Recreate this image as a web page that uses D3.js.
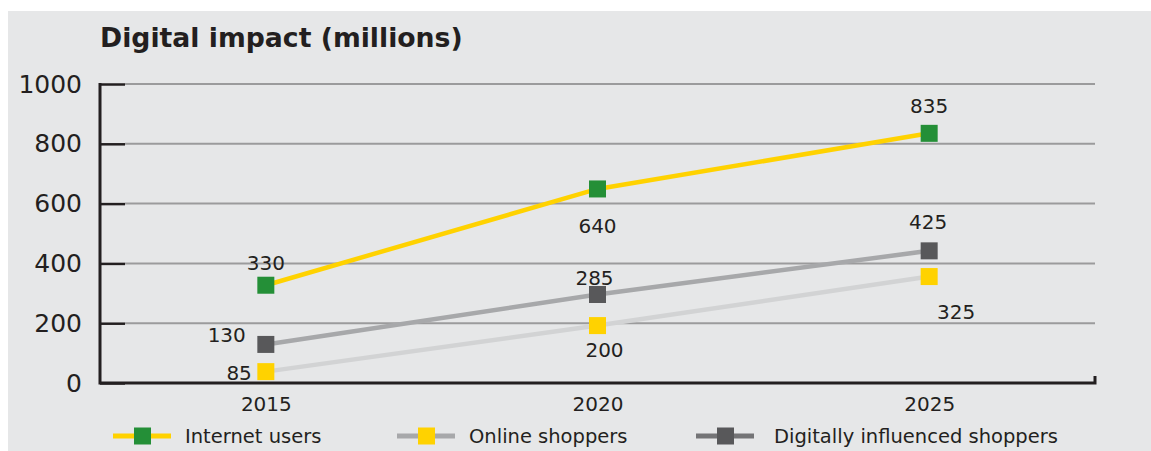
<!DOCTYPE html>
<html>
<head>
<meta charset="utf-8">
<script src="https://cdn.jsdelivr.net/npm/d3@7"></script>
<style>
  html, body { margin: 0; padding: 0; background: #fff; }
  svg { display: block; font-family: "DejaVu Sans", sans-serif; }
</style>
</head>
<body>
<div id="chart"></div>
<script>
// Digital impact (millions): three series over 2015 / 2020 / 2025

const years = ["2015", "2020", "2025"];
const yTicks = [0, 200, 400, 600, 800, 1000];

// where the markers sit in the picture
const internetUsers = [327, 649, 835];
const onlineShoppers = [38, 192, 356];
const digitallyInfluenced = [129, 296, 442];

// numbers printed next to the markers
const internetLabels = ["330", "640", "835"];
const onlineLabels = ["85", "200", "325"];
const digitalLabels = ["130", "285", "425"];

const seriesNames = ["Internet users", "Online shoppers", "Digitally influenced shoppers"];

function drawChart() {
  const width = 1151, height = 451;
  const axisLeft = 100, axisRight = 1095, axisTop = 84, axisBottom = 383;

  const svg = d3.select("#chart").append("svg")
    .attr("width", width)
    .attr("height", height);

  // grey panel
  svg.append("rect")
    .attr("x", 8).attr("y", 11)
    .attr("width", width - 8).attr("height", height - 11)
    .attr("fill", "#e6e7e8");

  const x = d3.scalePoint()
    .domain(years)
    .range([axisLeft, axisRight])
    .padding(0.5);

  const y = d3.scaleLinear()
    .domain([0, 1000])
    .range([axisBottom, axisTop]);

  // gridlines
  svg.append("g")
    .selectAll("line")
    .data(yTicks.filter(d => d > 0))
    .join("line")
    .attr("x1", axisLeft + 25).attr("x2", axisRight)
    .attr("y1", d => y(d)).attr("y2", d => y(d))
    .attr("stroke", "#9b9b9c")
    .attr("stroke-width", 2);

  // y axis: dark tick marks pointing inwards
  const yAxis = svg.append("g")
    .attr("transform", `translate(${axisLeft},0)`)
    .call(d3.axisLeft(y).tickValues(yTicks).tickFormat(d3.format("d")).tickSize(-25).tickPadding(18));
  yAxis.select(".domain").remove();
  yAxis.selectAll(".tick line").attr("stroke", "#231f20").attr("stroke-width", 2.5);
  yAxis.selectAll(".tick text")
    .attr("fill", "#231f20")
    .style("font-size", "25px")
    .style("font-family", "DejaVu Sans, sans-serif");

  // left and bottom axis lines with small end hook
  svg.append("path")
    .attr("d", `M${axisLeft},${axisTop - 1}V${axisBottom}H${axisRight}V${axisBottom - 7}`)
    .attr("fill", "none")
    .attr("stroke", "#231f20")
    .attr("stroke-width", 3);

  // x axis labels
  const xAxis = svg.append("g")
    .attr("transform", `translate(0,${axisBottom})`)
    .call(d3.axisBottom(x).tickSize(0).tickPadding(14));
  xAxis.select(".domain").remove();
  xAxis.selectAll(".tick text")
    .attr("fill", "#231f20")
    .style("font-size", "20px")
    .style("font-family", "DejaVu Sans, sans-serif");

  // series: line colour, marker colour, legend line colour
  const series = [
    { name: seriesNames[0], values: internetUsers, labels: internetLabels,
      line: "#ffd200", marker: "#248f37", legendLine: "#ffd200",
      offsets: [[0, -22, "middle"], [0, 37, "middle"], [0, -27, "middle"]] },
    { name: seriesNames[1], values: onlineShoppers, labels: onlineLabels,
      line: "#d2d3d4", marker: "#ffd200", legendLine: "#a7a8aa",
      offsets: [[-14, 1, "end"], [7, 24, "middle"], [27, 35, "middle"]] },
    { name: seriesNames[2], values: digitallyInfluenced, labels: digitalLabels,
      line: "#a7a8aa", marker: "#58585a", legendLine: "#747476",
      offsets: [[-20, -9, "end"], [-3, -16, "middle"], [-1, -29, "middle"]] }
  ];

  const lineGen = d3.line()
    .x((d, i) => x(years[i]))
    .y(d => y(d));

  const drawOrder = [1, 2, 0];
  drawOrder.forEach(k => {
    const s = series[k];
    svg.append("path")
      .datum(s.values)
      .attr("d", lineGen)
      .attr("fill", "none")
      .attr("stroke", s.line)
      .attr("stroke-width", 4.5)
      .attr("stroke-linecap", "round");
  });

  const ms = 17;
  drawOrder.forEach(k => {
    const s = series[k];
    svg.append("g")
      .selectAll("rect")
      .data(s.values)
      .join("rect")
      .attr("x", (d, i) => x(years[i]) - ms / 2)
      .attr("y", d => y(d) - ms / 2)
      .attr("width", ms).attr("height", ms)
      .attr("fill", s.marker);

    svg.append("g")
      .selectAll("text")
      .data(s.values)
      .join("text")
      .attr("x", (d, i) => x(years[i]) + s.offsets[i][0])
      .attr("y", (d, i) => y(d) + s.offsets[i][1])
      .attr("text-anchor", (d, i) => s.offsets[i][2])
      .attr("dominant-baseline", "central")
      .attr("fill", "#231f20")
      .style("font-size", "20px")
      .text((d, i) => s.labels[i]);
  });

  // title
  svg.append("text")
    .attr("x", 100).attr("y", 47)
    .attr("fill", "#231f20")
    .style("font-size", "26.7px")
    .style("font-weight", "bold")
    .text("Digital impact (millions)");

  // legend
  const legendX = [113, 397, 696];
  const legend = svg.append("g")
    .selectAll("g")
    .data(series)
    .join("g")
    .attr("transform", (d, i) => `translate(${legendX[i]},436)`);

  legend.append("line")
    .attr("x1", 0).attr("x2", 58)
    .attr("stroke", d => d.legendLine)
    .attr("stroke-width", 5);

  legend.append("rect")
    .attr("x", 21).attr("y", -8.5)
    .attr("width", ms).attr("height", ms)
    .attr("fill", d => d.marker);

  legend.append("text")
    .attr("x", (d, i) => i === 2 ? 78 : 72)
    .attr("dominant-baseline", "central")
    .attr("fill", "#231f20")
    .style("font-size", "19.5px")
    .text(d => d.name);
}

drawChart();
</script>
</body>
</html>
